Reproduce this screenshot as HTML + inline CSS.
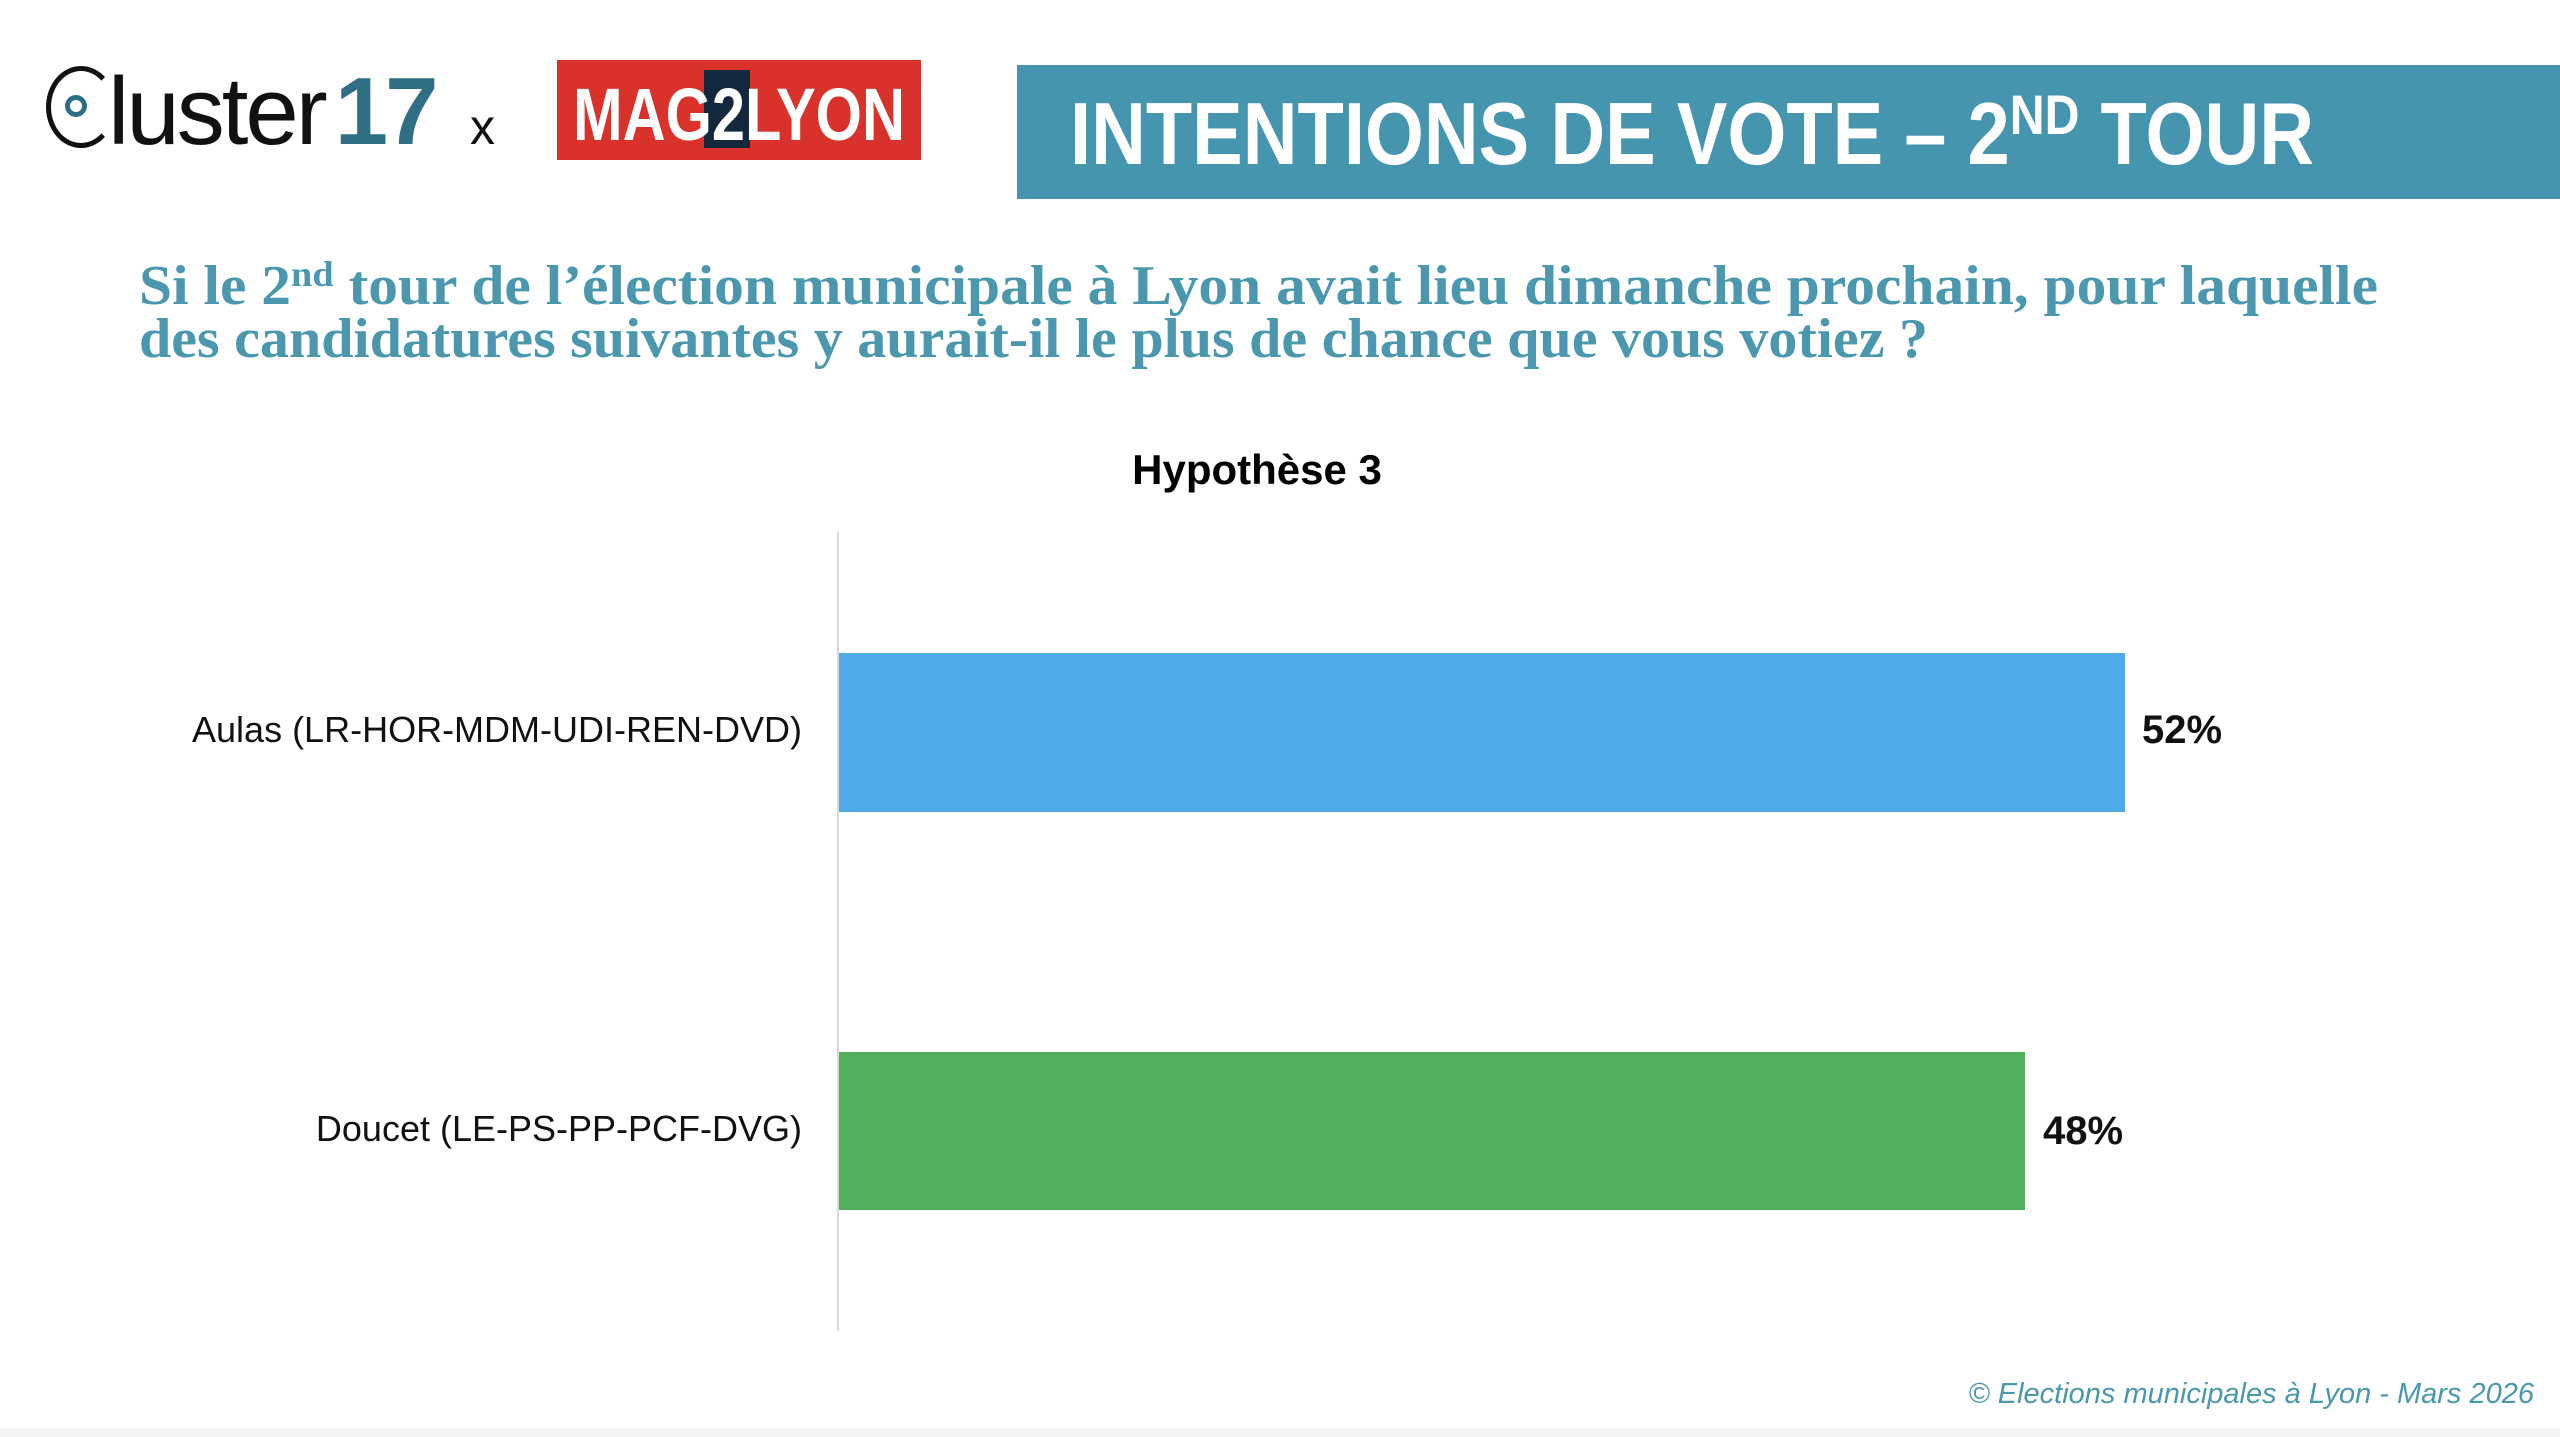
<!DOCTYPE html>
<html><head><meta charset="utf-8"><style>
body{margin:0;width:2560px;height:1437px;background:#fff;position:relative;overflow:hidden;font-family:"Liberation Sans",sans-serif}
.a{position:absolute}
</style></head><body>
<!-- Cluster17 logo -->
<div class="a" style="left:46px;top:62px;font-size:96px;line-height:100px;color:#111;letter-spacing:-3px;font-weight:300">
<span style="display:inline-block;width:60px;height:72px;border:5px solid #111;border-right-color:transparent;border-radius:50%;vertical-align:-4px;position:relative;margin-right:-8px"><span style="position:absolute;left:14px;top:24px;width:12px;height:12px;border:5px solid #2e6f85;border-radius:50%"></span></span>luster<span style="color:#2e6f85;font-weight:bold;margin-left:10px">17</span></div>
<div class="a" style="left:470px;top:98px;font-size:50px;color:#111">x</div>
<div class="a" style="left:557px;top:60px;width:364px;height:100px;background:#d9322b"></div>
<div class="a" style="left:704px;top:70px;width:46px;height:78px;background:#13283d"></div>
<svg class="a" style="left:0;top:0" width="2560" height="400">
<text x="573" y="140" textLength="332" lengthAdjust="spacingAndGlyphs" font-family="Liberation Sans" font-weight="bold" font-size="74" fill="#fff">MAG2LYON</text>
<rect x="1017" y="65" width="1543" height="134" fill="#4595ae"/>
<text x="1070" y="164" textLength="1244" lengthAdjust="spacingAndGlyphs" font-family="Liberation Sans" font-weight="bold" font-size="88" fill="#fff">INTENTIONS DE VOTE – 2<tspan font-size="56" dy="-30">ND</tspan><tspan dy="30"> TOUR</tspan></text>
<text x="139" y="304" textLength="2239" lengthAdjust="spacingAndGlyphs" font-family="Liberation Serif" font-weight="bold" font-size="56" fill="#4a97ae">Si le 2<tspan font-size="36" dy="-18">nd</tspan><tspan dy="18"> tour de l’élection municipale à Lyon avait lieu dimanche prochain, pour laquelle</tspan></text>
<text x="139" y="357" textLength="1789" lengthAdjust="spacingAndGlyphs" font-family="Liberation Serif" font-weight="bold" font-size="56" fill="#4a97ae">des candidatures suivantes y aurait-il le plus de chance que vous votiez ?</text>
</svg>
<!-- chart -->
<div class="a" style="left:1000px;top:446px;width:514px;text-align:center;font-weight:bold;font-size:42px;color:#000">Hypothèse 3</div>
<div class="a" style="left:837px;top:532px;width:2px;height:799px;background:#d9d9d9"></div>
<div class="a" style="left:839px;top:653px;width:1286px;height:159px;background:#4fabe8"></div>
<div class="a" style="left:839px;top:1052px;width:1186px;height:158px;background:#4faf5c"></div>
<div class="a" style="right:1758px;top:709px;font-size:36px;color:#111;white-space:nowrap">Aulas (LR-HOR-MDM-UDI-REN-DVD)</div>
<div class="a" style="right:1758px;top:1108px;font-size:36px;color:#111;white-space:nowrap">Doucet (LE-PS-PP-PCF-DVG)</div>
<div class="a" style="left:2142px;top:708px;font-size:40px;font-weight:bold;color:#111">52%</div>
<div class="a" style="left:2043px;top:1109px;font-size:40px;font-weight:bold;color:#111">48%</div>
<div class="a" style="right:26px;top:1378px;font-size:29px;font-style:italic;color:#4a97ae;white-space:nowrap">© Elections municipales à Lyon - Mars 2026</div>
<div class="a" style="left:0;top:1428px;width:2560px;height:9px;background:#f3f3f3"></div>
</body></html>
